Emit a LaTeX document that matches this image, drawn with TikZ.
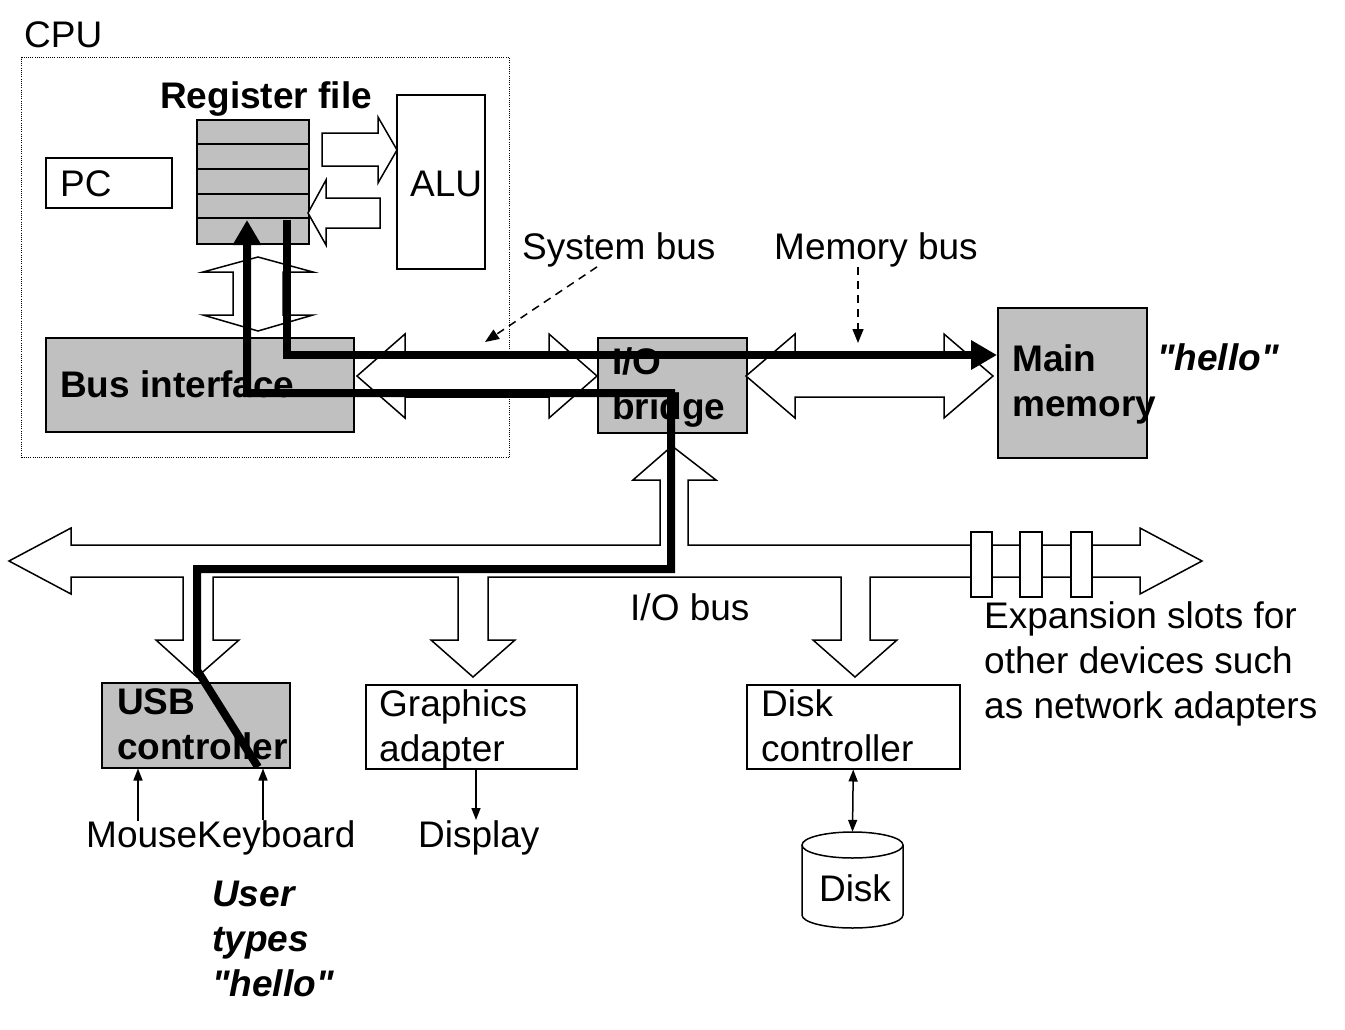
\documentclass[tikz,border=0pt]{standalone}
\usepackage{fontspec}
\setmainfont{Liberation Sans}
\newfontfamily\arialf{Liberation Sans}
\usetikzlibrary{arrows.meta}
\definecolor{boxgray}{RGB}{192,192,192}
\begin{document}
\begin{tikzpicture}[x=1pt,y=-1pt,
  lbl/.style={font=\arialf\fontsize{37}{45}\selectfont, inner sep=0pt, anchor=base west, align=left},
  blbl/.style={lbl, font=\arialf\fontsize{37}{45}\selectfont\bfseries},
  bilbl/.style={lbl, font=\arialf\fontsize{37}{45}\selectfont\bfseries\itshape},
  box/.style={draw, line width=1.5pt, inner sep=0pt, anchor=north west, fill=white},
  graybox/.style={box, fill=boxgray},
  barrow/.style={draw, line width=1.5pt, fill=white, line join=miter},
  flow/.style={line width=8pt, line join=miter},
  thinline/.style={line width=1.5pt},
  thinarrow/.style={line width=1.5pt, -{Triangle[length=12pt,width=9pt]}},
  dasharrow/.style={line width=1.5pt, dash pattern=on 8pt off 6pt, -{Triangle[length=14pt,width=11pt]}}
]
\useasboundingbox (0,0) rectangle (1345,1029);

% CPU
\node[draw, line width=1pt, dash pattern=on 1pt off 1.2pt, inner sep=0pt, anchor=north west,
      minimum width=488pt, minimum height=400pt] (cpubox) at (21,57) {};
\node[lbl] (cpu) at (24,47) {CPU};

\node[box, minimum width=126pt, minimum height=50pt] (pc) at (45,157) {};
\node[lbl] (pclbl) at (60,196) {PC};

\node[box, minimum width=88pt, minimum height=174pt] (alu) at (396,94) {};
\node[lbl] (alulbl) at (410,196) {ALU};

\node[graybox, minimum width=112pt, minimum height=124pt] (reg) at (196,119) {};
\foreach \yy in {144,169,194,218} \draw[thinline] (196,\yy) -- (308,\yy);
\node[blbl] (reglbl) at (160,108) {Register file};

\node[graybox, minimum width=308pt, minimum height=94pt] (bi) at (45,337) {};
\node[blbl] (bilbl) at (60,397) {Bus interface};

% block arrows inside CPU
\draw[barrow] (322,133) -- (378,133) -- (378,117) -- (397,150) -- (378,183) -- (378,166) -- (322,166) -- cycle;
\draw[barrow] (380,198) -- (326,198) -- (326,180) -- (308,213) -- (326,245) -- (326,228) -- (380,228) -- cycle;
\draw[barrow] (258,257) -- (313,272) -- (283,272) -- (283,315) -- (313,315) -- (258,331) -- (203,315) -- (233,315) -- (233,272) -- (203,272) -- cycle;

% I/O bridge and main memory
\node[graybox, minimum width=149pt, minimum height=95pt] (io) at (597,337) {};
\node[graybox, minimum width=149pt, minimum height=150pt] (mem) at (997,307) {};

% system bus and memory bus
\draw[barrow] (357,376) -- (405,334) -- (405,355) -- (549,355) -- (549,334) -- (597,376) -- (549,418) -- (549,397) -- (405,397) -- (405,418) -- cycle;
\draw[barrow] (746,376) -- (795,334) -- (795,355) -- (944,355) -- (944,334) -- (993,376) -- (944,418) -- (944,397) -- (795,397) -- (795,418) -- cycle;

\node[blbl] (iolbl) at (612,419) {I/O\\bridge};
\node[blbl] (memlbl) at (1012,416) {Main\\memory};
\node[bilbl] (hello) at (1157,370) {"hello"};

\node[lbl] (sysbus) at (522,259) {System bus};
\node[lbl] (membus) at (774,259) {Memory bus};
\coordinate (sysbusend) at (485,342);
\coordinate (membusend) at (858,343);
\draw[dasharrow] (sysbus.south -| 597,0) -- (sysbusend);
\draw[dasharrow] (membus.south -| 858,0) -- (membusend);

% I/O bus
\draw[barrow] (9,561) -- (71,528) -- (71,545) -- (660,545) -- (660,480) -- (633,480) -- (672,446)
  -- (716,480) -- (688,480) -- (688,545) -- (1140,545) -- (1140,528) -- (1202,561) -- (1140,594)
  -- (1140,577) -- (870,577) -- (870,640) -- (897,640) -- (855,677) -- (813,640) -- (841,640)
  -- (841,577) -- (488,577) -- (488,640) -- (515,640) -- (473,677) -- (431,640) -- (458,640)
  -- (458,577) -- (213,577) -- (213,640) -- (239,640) -- (197,677) -- (156,640) -- (183,640)
  -- (183,577) -- (71,577) -- (71,594) -- cycle;
\foreach \a/\b in {971/992, 1020/1042, 1071/1092}
  \draw[thinline, fill=white] (\a,532) rectangle (\b,597);
\node[lbl] (iobus) at (630,620) {I/O bus};
\node[lbl] (exp) at (984,718) {Expansion slots for\\other devices such\\as network adapters};

% controllers
\node[graybox, minimum width=188pt, minimum height=85pt] (usb) at (101,682) {};
\node[blbl] (usblbl) at (117,759) {USB\\controller};
\node[box, minimum width=211pt, minimum height=84pt] (gfx) at (365,684) {};
\node[lbl] (gfxlbl) at (379,761) {Graphics\\adapter};
\node[box, minimum width=213pt, minimum height=84pt] (dctl) at (746,684) {};
\node[lbl] (dctllbl) at (761,761) {Disk\\controller};

% devices
\node[lbl] (mouse) at (86,847) {Mouse};
\node[lbl] (kbd) at (197,847) {Keyboard};
\node[lbl] (disp) at (418,847) {Display};
\draw[thinarrow] (mouse.north -| 138,0) -- (usb.south -| 138,0);
\draw[thinarrow] (kbd.north -| 263,0) -- (usb.south -| 263,0);
\draw[thinarrow] (gfx.south -| 476,0) -- (disp.north -| 476,0);

% disk
\draw[thinline, fill=white] (802,845) -- (802,915) arc[start angle=180, end angle=0, x radius=50.5, y radius=13] -- (903,845);
\draw[thinline, fill=white] (852.5,845) ellipse [x radius=50.5, y radius=13];
\node[inner sep=0pt, minimum width=101pt, minimum height=96pt] (disk) at (852.5,880) {};
\node[lbl, anchor=base] (disklbl) at (855,901) {Disk};
\draw[line width=1.5pt, {Triangle[length=12pt,width=9pt]}-{Triangle[length=12pt,width=9pt]}] (dctl.south) -- (disk.north);

\node[bilbl] (user) at (212,996) {User\\types\\"hello"};

% thick data paths
\draw[flow, -{Triangle[length=25pt,width=27pt]}] (258,767) -- (197,670) -- (197,569) -- (671,569) -- (671,393) -- (247,393) -- (247,220);
\draw[flow, -{Triangle[length=26pt,width=28pt]}] (287,220) -- (287,355) -- (mem.west |- 0,355);
\end{tikzpicture}
\end{document}
